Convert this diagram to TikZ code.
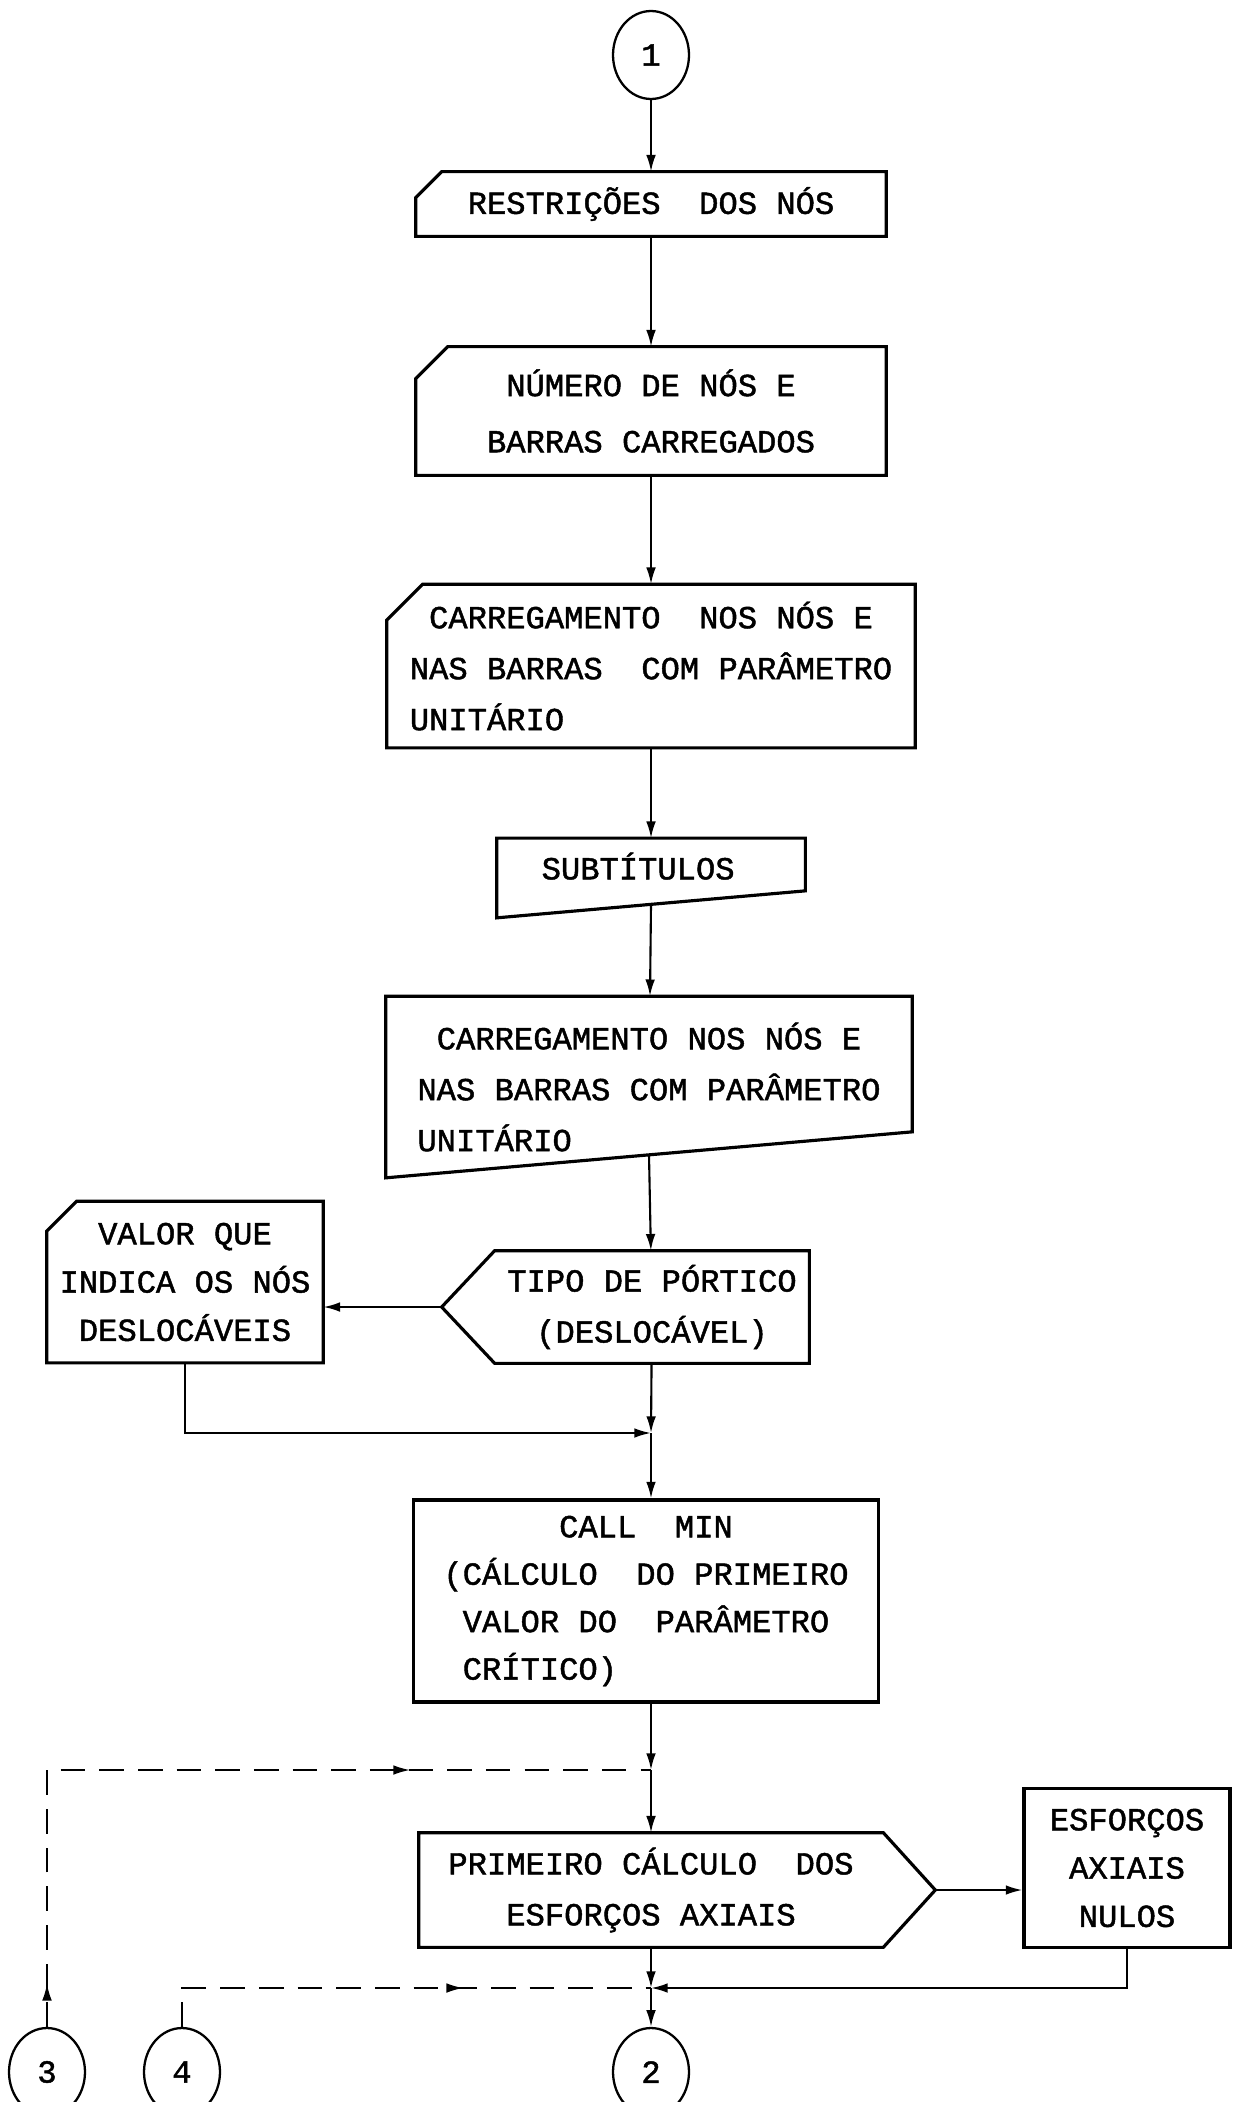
\documentclass[tikz,border=0pt]{standalone}
\usepackage{fontspec}
\newfontfamily\maq[FakeBold=1.4]{Liberation Mono}
\usetikzlibrary{calc}
\usetikzlibrary{arrows.meta}
\usetikzlibrary{shapes.geometric}
\usetikzlibrary{decorations.markings}

\tikzset{
  borda/.style = {line width = 1.8pt, line join = miter},
  bloco/.style = {rectangle, inner sep = 0pt, align = center,
    font = \maq\fontsize{18.3}{29}\selectfont},
  conector/.style = {ellipse, draw, line width = 1.3pt, inner sep = 0pt,
    minimum width = 1.52cm, minimum height = 1.76cm,
    font = \maq\fontsize{18.3}{29}\selectfont},
  seta/.style = {line width = 1.2pt, -{Latex[length = 9.5pt, width = 5.5pt]}},
  tracejado/.style = {line width = 0.9pt, dash pattern = on 14pt off 8pt}
}

\newcommand{\cartao}[2]{%
  \draw[borda] ($(#1.north west) + (#2, 0)$) -- (#1.north east)
  -- (#1.south east) -- (#1.south west) -- ($(#1.north west) + (0, -#2)$)
  -- cycle;}

\begin{document}
\begin{tikzpicture}[x = 0.02cm, y = 0.02cm]
  \useasboundingbox (0, 0) rectangle (1232, -2102);

  \node[conector] (c1) at (651, -55) {1};

  \node[bloco, minimum width = 9.4cm, minimum height = 1.28cm] (restr)
  at (651, -204) {RESTRIÇÕES~~DOS NÓS};
  \cartao{restr}{26}

  \node[bloco, minimum width = 9.4cm, minimum height = 2.56cm] (numero)
  at (651, -411) {NÚMERO DE NÓS E\\[3pt]BARRAS CARREGADOS};
  \cartao{numero}{32}

  \node[bloco, align = left, minimum width = 10.56cm, minimum height = 3.26cm]
  (carga) at (651, -666) {\hspace*{0.6em}CARREGAMENTO~~NOS NÓS E\\NAS
    BARRAS~~COM PARÂMETRO\\UNITÁRIO};
  \cartao{carga}{36}

  \node[bloco, minimum width = 6.16cm, minimum height = 1.58cm,
  text depth = 0.48cm] (subt) at (651, -878) {SUBTÍTULOS\hspace{0.8em}};
  \draw[borda] (subt.north west) -- (subt.north east)
  -- ($(subt.south east) + (0, 27)$) -- (subt.south west) -- cycle;
  \coordinate (subt fundo) at ($(subt.south) + (0, 13)$);

  \node[bloco, align = left, minimum width = 10.52cm, minimum height = 3.62cm]
  (carga2) at (649, -1087) {\hspace*{0.6em}CARREGAMENTO NOS NÓS E\\NAS
    BARRAS COM PARÂMETRO\\UNITÁRIO};
  \draw[borda] (carga2.north west) -- (carga2.north east)
  -- ($(carga2.south east) + (0, 46)$) -- (carga2.south west) -- cycle;
  \coordinate (carga2 fundo) at ($(carga2.south) + (0, 23)$);

  \node[bloco, minimum width = 6.28cm, minimum height = 2.24cm] (tipo)
  at (652, -1307) {TIPO DE PÓRTICO\\(DESLOCÁVEL)};
  \coordinate (tipo ponta) at ($(tipo.west) + (-53, 0)$);
  \draw[borda] (tipo.north west) -- (tipo.north east) -- (tipo.south east)
  -- (tipo.south west) -- (tipo ponta) -- cycle;

  \node[bloco, minimum width = 5.52cm, minimum height = 3.22cm,
  font = \maq\fontsize{18.3}{27.5}\selectfont] (valor)
  at (185, -1282) {VALOR QUE\\INDICA OS NÓS\\DESLOCÁVEIS};
  \cartao{valor}{30}

  \coordinate (J1) at (651, -1433);

  \node[bloco, draw, borda, align = left, minimum width = 9.3cm,
  minimum height = 4.04cm, font = \maq\fontsize{18.3}{27}\selectfont] (callmin)
  at (646, -1601) {\hspace*{3.6em}CALL~~MIN\\(CÁLCULO~~DO
    PRIMEIRO\\\hspace*{0.6em}VALOR DO~~PARÂMETRO\\\hspace*{0.6em}CRÍTICO)};

  \coordinate (J2) at (651, -1770);

  \node[bloco, minimum width = 9.28cm, minimum height = 2.28cm] (calc)
  at (651, -1890) {PRIMEIRO CÁLCULO~~DOS\\ESFORÇOS AXIAIS};
  \coordinate (calc ponta) at ($(calc.east) + (52, 0)$);
  \draw[borda] (calc.north west) -- (calc.north east) -- (calc ponta)
  -- (calc.south east) -- (calc.south west) -- cycle;

  \node[bloco, draw, borda, minimum width = 4.12cm, minimum height = 3.18cm,
  font = \maq\fontsize{18.3}{27.5}\selectfont] (nulos)
  at (1127, -1868) {ESFORÇOS\\AXIAIS\\NULOS};

  \coordinate (J3) at (651, -1988);

  \node[conector] (c2) at (651, -2072) {2};
  \node[conector] (c3) at (47, -2072) {3};
  \node[conector] (c4) at (182, -2072) {4};

  \draw[seta] (c1) -- (restr);
  \draw[seta] (restr) -- (numero);
  \draw[seta] (numero) -- (carga);
  \draw[seta] (carga) -- (subt);
  \draw[seta] (subt fundo) -- (carga2);
  \draw[seta] (carga2 fundo) -- (tipo);
  \draw[seta] (tipo ponta) -- (tipo ponta -| valor.east);
  \draw[seta] (tipo) -- (J1);
  \draw[seta] (valor) |- (J1);
  \draw[seta] (J1) -- (J1 |- callmin.north);
  \draw[seta] (J1 |- callmin.south) -- (J2);
  \draw[seta] (J2) -- (calc);
  \draw[seta] (calc ponta) -- (calc ponta -| nulos.west);
  \draw[seta] (calc) -- (J3);
  \draw[seta] (nulos) |- (J3);
  \draw[seta] (J3) -- (c2);

  \draw[tracejado, decoration = {markings,
      mark = at position 0.05 with {\arrow{Latex[length = 9.5pt, width = 5.5pt]}},
      mark = at position 0.72 with {\arrow{Latex[length = 9.5pt, width = 5.5pt]}}
    }, postaction = decorate] (c3) |- (J2);
  \draw[tracejado, decoration = {markings,
      mark = at position 0.63 with {\arrow{Latex[length = 9.5pt, width = 5.5pt]}}
    }, postaction = decorate] (c4) |- (J3);
\end{tikzpicture}
\end{document}
